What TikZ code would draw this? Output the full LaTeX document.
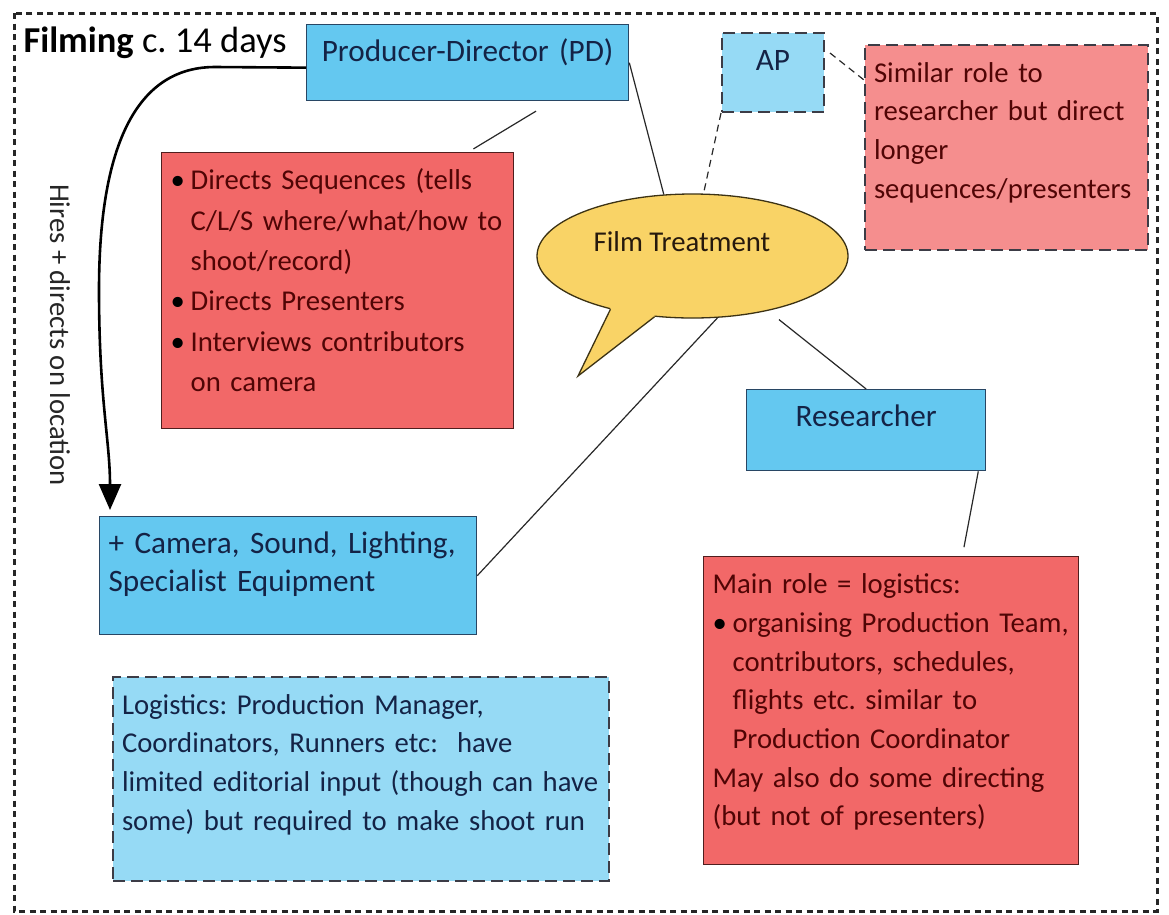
\documentclass[tikz,border=0pt]{standalone}
\usepackage{fontspec}
\setmainfont{Carlito}
\usetikzlibrary{arrows.meta,shapes.geometric}
\frenchspacing
\definecolor{pdblue}{RGB}{100,200,240}
\definecolor{paleblue}{RGB}{150,218,245}
\definecolor{rolered}{RGB}{242,104,104}
\definecolor{rolepink}{RGB}{245,142,142}
\definecolor{treatyellow}{RGB}{249,211,102}
\definecolor{navytext}{RGB}{20,35,70}
\definecolor{navyline}{RGB}{40,70,100}
\definecolor{redtext}{RGB}{80,5,5}
\definecolor{redline}{RGB}{80,30,30}
\definecolor{dashline}{RGB}{60,60,70}
\definecolor{linkgray}{RGB}{40,40,40}
\definecolor{bubbleline}{RGB}{60,50,20}
\newcommand{\bul}{\makebox[20pt][l]{\color{black}\textbullet}}
\newcommand{\ind}{\hspace*{20pt}}
\begin{document}
\begin{tikzpicture}[x=1pt, y=-1pt,
  every node/.style={font=\fontsize{28.7}{38.7}\selectfont},
  box/.style={rectangle, anchor=north west, inner xsep=9pt, inner ysep=10pt,
    text height=27pt, align=left, line width=1.3pt},
  solidblue/.style={box, draw=navyline, fill=pdblue, text=navytext,
    font=\fontsize{31.2}{38}\selectfont},
  dashblue/.style={box, draw=dashline, fill=paleblue, text=navytext,
    line width=2pt, dash pattern=on 12pt off 6pt},
  pinkbox/.style={box, draw=dashline, fill=rolepink, text=redtext,
    line width=2pt, dash pattern=on 12pt off 6pt},
  redbox/.style={box, draw=redline, fill=rolered, text=redtext},
  link/.style={draw=linkgray, line width=1.2pt},
  frame/.style={draw=black!85, line width=3pt, dash pattern=on 6pt off 4.5pt}]
\useasboundingbox[fill=white] (0,0) rectangle (1169,914);
\draw[frame] (14,13) rectangle (1157,911);
\node[anchor=west, font=\fontsize{36.5}{38}\selectfont] (title) at (20,43) {\textbf{Filming} c. 14 days};

\node[solidblue, text width=304pt, align=center, text depth=29pt] (pd) at (306,24) {Producer-Director (PD)};
\node[dashblue, text width=84pt, align=center, text depth=32pt, font=\fontsize{31.2}{38}\selectfont] (ap) at (721,32) {AP};
\node[pinkbox, text width=265pt, text depth=158pt] (sim) at (864,44)
  {Similar role to\\researcher but direct\\longer\\\mbox{sequences/presenters}};
\node[redbox, text width=334pt, text depth=229pt, font=\fontsize{28.7}{40.4}\selectfont] (red) at (161,152)
  {\bul Directs Sequences (tells\\\ind\mbox{C/L/S where/what/how to}\\\ind shoot/record)\\
   \bul Directs Presenters\\\bul Interviews contributors\\\ind on camera};

\node[ellipse, draw=bubbleline, fill=treatyellow, line width=1.3pt, minimum width=311pt,
  minimum height=124pt, inner sep=0pt] (ft) at (692.5,256) {};
\coordinate (tail) at (578,376);
\fill[treatyellow] (ft.-147) -- (tail) -- (ft.-122) -- ([yshift=4pt]ft.-122) -- ([yshift=4pt]ft.-147) -- cycle;
\draw[draw=bubbleline, line width=1.3pt] (ft.-147) -- (tail) -- (ft.-122);
\node[text=black!80!brown] (ftlabel) at (682,242) {Film Treatment};

\node[solidblue, text width=221pt, align=center, text depth=34pt] (res) at (746,389) {Researcher};
\node[solidblue, text width=359pt, text depth=71pt] (cam) at (99,516)
  {+ Camera, Sound, Lighting,\\Specialist Equipment};
\node[redbox, text width=357pt, text depth=261pt] (main) at (703,556)
  {Main role = logistics:\\\bul\mbox{organising Production Team,}\\\ind contributors, schedules,\\
   \ind flights etc. similar to\\\ind Production Coordinator\\May also do some directing\\(but not of presenters)};
\node[dashblue, text width=478pt, text depth=157pt] (log) at (112,676)
  {Logistics: Production Manager,\\Coordinators, Runners etc:\ \ have\\
   \mbox{limited editorial input (though can have}\\some) but required to make shoot run};

\draw[link] (pd.east) -- (ft.115);
\draw[link, dash pattern=on 7pt off 5pt] (ap.south west) -- (ft.80);
\draw[link, dash pattern=on 7pt off 5pt] ([xshift=5pt,yshift=-21pt]ap.north east) -- ([yshift=-36pt]sim.north west);
\draw[link, shorten <=19pt, shorten >=6pt] ([xshift=-77pt]pd.south east) -- ([xshift=-46pt]red.north east);
\draw[link] (ft.-68) -- (cam.east);
\draw[link, shorten <=14pt] (ft.-36) -- (res.north);
\draw[link, shorten >=9pt] ([xshift=-8pt]res.south east) -- ([xshift=-117pt]main.north east);

\draw[line width=2.6pt, -{Triangle[width=22pt,length=26pt]}] ([yshift=-5pt]pd.west) -- (215,67)
  .. controls (125,67) and (99,170) .. (99,290)
  .. controls (99,400) and (110,440) .. ([xshift=11pt,yshift=6pt]cam.north west);
\node[rotate=-90, text=black!85] (hires) at (60,335) {Hires + directs on location};
\end{tikzpicture}
\end{document}
